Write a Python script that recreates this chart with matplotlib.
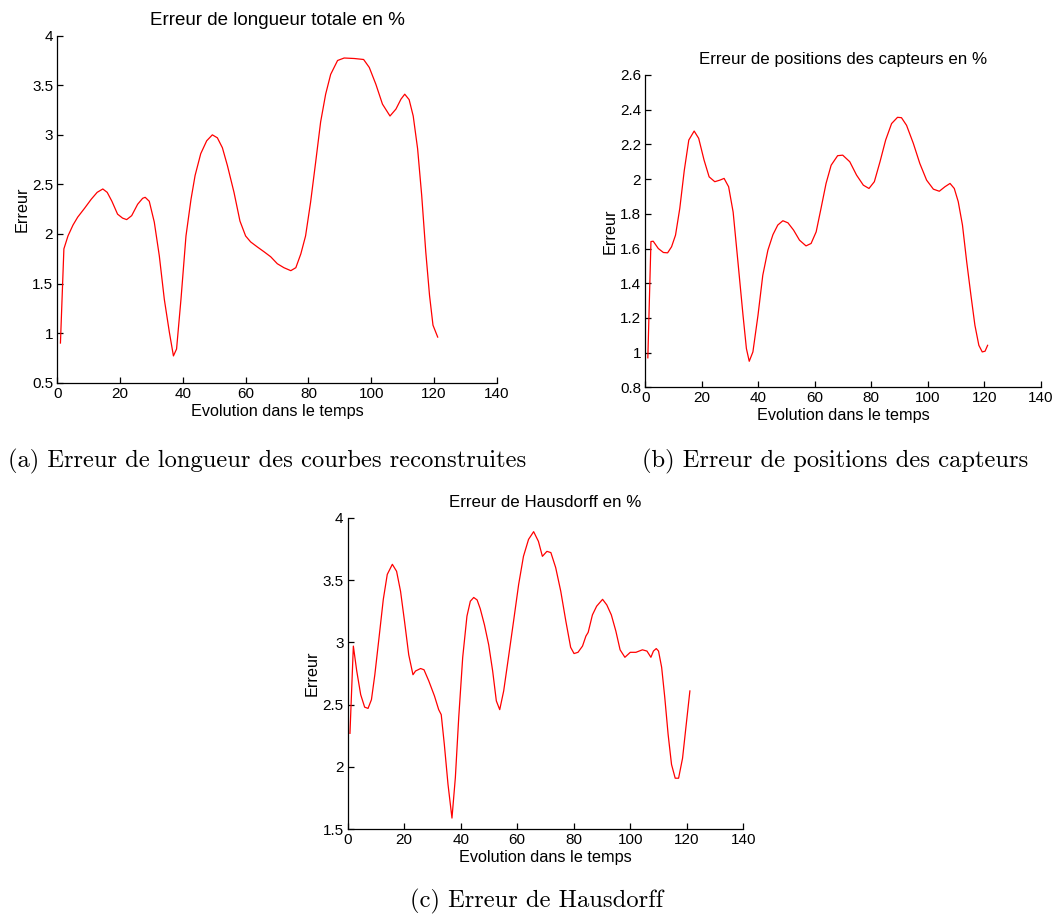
import matplotlib
matplotlib.use("Agg")
import matplotlib.pyplot as plt
from matplotlib.ticker import FuncFormatter, MultipleLocator

# ---- data ----
xa = [1.0, 2.1, 3.4, 5.0, 6.5, 8.7, 10.8, 12.7, 14.5, 15.9, 17.4, 19.2, 20.8, 22.1, 23.7,
      25.6, 27.2, 28.0, 29.3, 30.9, 32.5, 34.1, 35.7, 37.0, 38.0, 39.4, 41.0, 42.6, 43.9,
      45.7, 47.6, 49.4, 51.0, 52.6, 54.2, 56.3, 58.2, 60.0, 61.6, 63.7, 65.9, 68.0, 70.1,
      72.2, 74.4, 76.0, 77.6, 79.1, 80.7, 82.3, 83.9, 85.5, 87.1, 89.3, 91.4, 94.6, 97.6,
      99.4, 101.5, 103.6, 106.0, 107.9, 109.5, 110.7, 112.1, 113.4, 114.8, 116.1, 117.4,
      118.6, 119.7, 121.2]
ya = [0.90, 1.85, 1.98, 2.09, 2.17, 2.26, 2.35, 2.42, 2.454, 2.42, 2.33, 2.20, 2.16, 2.145,
      2.185, 2.30, 2.36, 2.37, 2.33, 2.12, 1.78, 1.34, 1.01, 0.77, 0.84, 1.34, 1.98, 2.35,
      2.59, 2.81, 2.94, 3.00, 2.97, 2.87, 2.69, 2.42, 2.13, 1.98, 1.92, 1.87, 1.82, 1.77,
      1.70, 1.66, 1.63, 1.66, 1.80, 1.98, 2.32, 2.72, 3.13, 3.41, 3.61, 3.75, 3.775, 3.77,
      3.76, 3.68, 3.51, 3.31, 3.19, 3.26, 3.36, 3.41, 3.355, 3.19, 2.86, 2.39, 1.82, 1.38,
      1.08, 0.96]

xb = [0.9, 2.0, 2.8, 4.6, 6.4, 7.9, 9.3, 10.7, 12.2, 13.8, 15.4, 17.3, 18.9, 20.8, 22.6,
      24.6, 26.4, 27.9, 29.5, 31.1, 32.8, 34.6, 35.8, 36.8, 38.1, 39.9, 41.6, 43.4, 45.2,
      46.9, 48.7, 50.5, 52.5, 54.6, 56.9, 58.7, 60.5, 62.2, 64.0, 65.8, 68.1, 69.9, 72.4,
      74.8, 77.2, 79.2, 81.1, 83.1, 85.1, 87.2, 89.3, 90.7, 92.5, 94.9, 97.2, 99.6, 102.0,
      104.1, 106.1, 107.9, 109.4, 110.8, 112.3, 113.8, 115.3, 116.7, 118.1, 119.3, 120.3,
      121.2]
yb = [0.97, 1.64, 1.642, 1.60, 1.577, 1.575, 1.61, 1.677, 1.83, 2.05, 2.225, 2.277, 2.235,
      2.11, 2.013, 1.985, 1.994, 2.004, 1.956, 1.81, 1.523, 1.215, 1.023, 0.95, 1.004,
      1.215, 1.446, 1.59, 1.68, 1.735, 1.76, 1.748, 1.706, 1.648, 1.615, 1.629, 1.696, 1.83,
      1.975, 2.08, 2.135, 2.138, 2.10, 2.023, 1.965, 1.946, 1.985, 2.10, 2.225, 2.32, 2.356,
      2.354, 2.31, 2.206, 2.09, 1.994, 1.942, 1.93, 1.956, 1.975, 1.946, 1.87, 1.735, 1.523,
      1.33, 1.158, 1.042, 1.004, 1.008, 1.042]

xc = [0.8, 2.0, 3.2, 4.6, 6.0, 7.2, 8.4, 9.6, 11.1, 12.6, 14.0, 15.8, 17.3, 18.7, 20.1,
      21.6, 23.1, 24.0, 25.8, 27.0, 28.7, 30.7, 32.2, 33.1, 34.2, 35.5, 36.9, 38.1, 39.3,
      40.7, 42.2, 43.4, 44.6, 45.8, 46.9, 48.4, 49.9, 51.3, 52.6, 53.8, 55.2, 56.9, 58.7,
      60.5, 62.2, 64.0, 65.8, 67.5, 68.9, 70.5, 71.9, 73.6, 75.4, 77.2, 78.9, 80.1, 81.5,
      83.1, 84.3, 85.1, 86.6, 88.1, 90.2, 91.7, 93.3, 94.9, 96.4, 98.1, 100.0, 102.0, 104.3,
      105.9, 107.3, 108.2, 109.2, 110.0, 111.1, 112.2, 113.4, 114.6, 115.9, 117.1, 118.5,
      119.7, 121.1]
yc = [2.27, 2.97, 2.77, 2.58, 2.48, 2.47, 2.54, 2.74, 3.04, 3.345, 3.545, 3.626, 3.57, 3.41,
      3.17, 2.90, 2.74, 2.77, 2.79, 2.78, 2.69, 2.57, 2.46, 2.42, 2.18, 1.86, 1.59, 1.915,
      2.40, 2.88, 3.21, 3.33, 3.36, 3.34, 3.27, 3.14, 2.98, 2.77, 2.53, 2.46, 2.61, 2.88,
      3.17, 3.465, 3.69, 3.826, 3.888, 3.81, 3.69, 3.73, 3.72, 3.60, 3.41, 3.17, 2.96, 2.91,
      2.92, 2.97, 3.05, 3.08, 3.22, 3.29, 3.345, 3.30, 3.22, 3.09, 2.94, 2.88, 2.92, 2.92,
      2.94, 2.93, 2.88, 2.93, 2.95, 2.93, 2.80, 2.56, 2.26, 2.02, 1.91, 1.91, 2.07, 2.32,
      2.61]

titles = ["Erreur de longueur totale en %",
          "Erreur de positions des capteurs en %",
          "Erreur de Hausdorff en %"]
captions = ["(a) Erreur de longueur des courbes reconstruites",
            "(b) Erreur de positions des capteurs",
            "(c) Erreur de Hausdorff"]
xlabel = "Evolution dans le temps"
ylabel = "Erreur"

W, H = 1054, 916
fig = plt.figure(figsize=(W / 100, H / 100), dpi=100)
plt.rcParams['font.family'] = ['Liberation Sans', 'DejaVu Sans']


def px_axes(l, t, r, b):
    return fig.add_axes([l / W, 1 - b / H, (r - l) / W, (b - t) / H])


fmt = FuncFormatter(lambda v, p: "%g" % round(v, 3))


def style(ax, x, y, title, ylim, ystep, tsize):
    ax.plot(x, y, color='red', lw=0.9)
    ax.set_xlim(0, 140)
    ax.set_ylim(*ylim)
    ax.xaxis.set_major_locator(MultipleLocator(20))
    ax.yaxis.set_major_locator(MultipleLocator(ystep))
    ax.yaxis.set_major_formatter(fmt)
    ax.xaxis.set_major_formatter(fmt)
    for s in ['top', 'right']:
        ax.spines[s].set_visible(False)
    for s in ['left', 'bottom']:
        ax.spines[s].set_linewidth(0.9)
    ax.tick_params(direction='in', length=4, width=0.9, labelsize=11, pad=3)
    ax.set_title(title, fontsize=tsize, pad=8)
    ax.set_xlabel(xlabel, fontsize=11.7, labelpad=2)
    ax.set_ylabel(ylabel, fontsize=11.7, labelpad=2)


ax1 = px_axes(57.3, 35.7, 496.7, 382.7)
style(ax1, xa, ya, titles[0], (0.5, 4), 0.5, 13.5)

ax2 = px_axes(645.3, 75, 1040.7, 387.3)
style(ax2, xb, yb, titles[1], (0.8, 2.6), 0.2, 12.2)

ax3 = px_axes(347.7, 517.7, 743.3, 829.3)
style(ax3, xc, yc, titles[2], (1.5, 4), 0.5, 12.2)

cap_kw = dict(family='cmr10', fontsize=17.7, ha='center', va='center')
fig.text(267 / W, 1 - 461 / H, captions[0], **cap_kw)
fig.text(835 / W, 1 - 461 / H, captions[1], **cap_kw)
fig.text(537 / W, 1 - 901 / H, captions[2], **cap_kw)

fig.savefig("out.png", dpi=100)
